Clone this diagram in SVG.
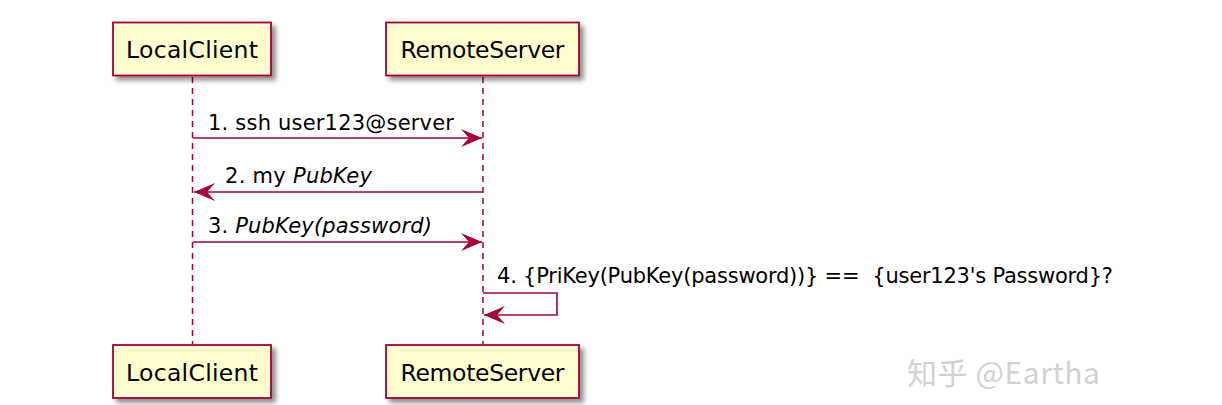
<svg xmlns="http://www.w3.org/2000/svg" width="1222" height="405" viewBox="0 0 1222 405">
<style>
.box{fill:#FEFECE;stroke:#A80036;stroke-width:1.8}
.pt{font-family:"DejaVu Sans",Verdana,sans-serif;font-size:23.5px;fill:#000;text-anchor:middle}
.life{stroke:#A80036;stroke-width:1.5;stroke-dasharray:6,5;fill:none}
.msg{stroke:#A80036;stroke-width:1.6;fill:none}
.mt{font-family:"DejaVu Sans",Verdana,sans-serif;font-size:21px;fill:#000;white-space:pre}
.it{font-style:italic}
.wm{font-family:"Noto Sans CJK SC","Noto Sans",sans-serif;font-size:30px;fill:#d2d2d2}
</style>
<defs>
<filter id="sh" x="-10%" y="-20%" width="130%" height="160%">
<feGaussianBlur in="SourceAlpha" stdDeviation="2.5"/>
<feOffset dx="4" dy="4" result="b"/>
<feComponentTransfer><feFuncA type="linear" slope="0.45"/></feComponentTransfer>
<feMerge><feMergeNode/><feMergeNode in="SourceGraphic"/></feMerge>
</filter>
<marker id="ah" markerUnits="userSpaceOnUse" markerWidth="24" markerHeight="20" refX="21" refY="9" orient="auto">
<polygon points="21,9 0,0 8,9 0,18" fill="#A80036"/>
</marker>
</defs>
<g id="lifelines">
<line class="life" x1="192.5" y1="77" x2="192.5" y2="344"/>
<line class="life" x1="483" y1="77" x2="483" y2="344"/>
</g>
<g id="LocalClient-top">
<rect class="box" x="113" y="22.5" width="158" height="53" filter="url(#sh)"/>
<text class="pt" x="192" y="58" textLength="132">LocalClient</text>
</g>
<g id="RemoteServer-top">
<rect class="box" x="386" y="22.5" width="193" height="53" filter="url(#sh)"/>
<text class="pt" x="482.5" y="58" textLength="164">RemoteServer</text>
</g>
<g id="LocalClient-bottom">
<rect class="box" x="113" y="345" width="158" height="53" filter="url(#sh)"/>
<text class="pt" x="192" y="380.5" textLength="132">LocalClient</text>
</g>
<g id="RemoteServer-bottom">
<rect class="box" x="386" y="345" width="193" height="53" filter="url(#sh)"/>
<text class="pt" x="482.5" y="380.5" textLength="164">RemoteServer</text>
</g>
<g id="connectors">
<line class="msg" x1="193" y1="138" x2="482" y2="138" marker-end="url(#ah)"/>
<line class="msg" x1="483" y1="192" x2="194" y2="192" marker-end="url(#ah)"/>
<line class="msg" x1="193" y1="242" x2="482" y2="242" marker-end="url(#ah)"/>
<polyline class="msg" points="483,293 557,293 557,315 484,315" marker-end="url(#ah)"/>
</g>
<g id="labels">
<text class="mt" x="208" y="130" textLength="246">1. ssh user123@server</text>
<text class="mt" x="225" y="183" textLength="147">2. my <tspan class="it">PubKey</tspan></text>
<text class="mt" x="208" y="233" textLength="224">3. <tspan class="it">PubKey(password)</tspan></text>
<text class="mt" x="497" y="283" textLength="616">4. {PriKey(PubKey(password))} ==  {user123's Password}?</text>
</g>
<text class="wm" x="907" y="384" textLength="193">知乎 @Eartha</text>
</svg>
